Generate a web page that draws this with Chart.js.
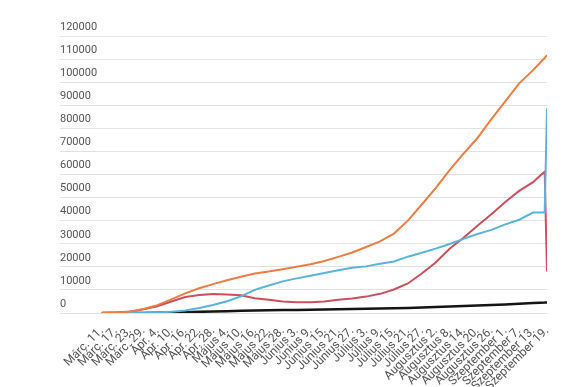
<!DOCTYPE html>
<html>
<head>
<meta charset="utf-8">
<script src="https://cdn.jsdelivr.net/npm/chart.js@4"></script>
<style>
  html, body { margin: 0; padding: 0; background: #fff; }
  #wrap { width: 575px; height: 387px; position: relative; }
</style>
</head>
<body>
<div id="wrap"><canvas id="chart"></canvas></div>
<script>
// days counted from Márc. 11.
var days = [0, 6, 12, 18, 24, 30, 36, 42, 48, 54, 60, 66, 72, 78, 84, 90, 96, 102, 108, 114,
    120, 126, 132, 138, 144, 150, 156, 162, 168, 174, 180, 186, 189, 191, 192];

var confirmed = [0, 180, 600, 1700, 3400, 5900, 8500, 10700, 12500, 14200, 15700, 17100, 18000, 19000, 20000, 21100, 22500, 24300, 26200, 28600,
    31000, 34400, 40000, 47000, 54100, 61900, 69000, 75800, 84000, 91700, 99500, 105200, 108400, 110500, 111700];
var active = [0, 170, 550, 1600, 2900, 5000, 6900, 7800, 8200, 8000, 7700, 6400, 5700, 5000, 4700, 4700, 5000, 5700, 6300, 7100,
    8300, 10200, 12800, 17100, 21900, 27800, 32600, 37800, 42800, 48100, 52900, 56700, 59500, 61200, 18000];
var recovered = [0, 10, 70, 150, 300, 500, 1100, 2150, 3500, 5100, 7200, 10000, 11900, 13700, 15000, 16100, 17300, 18500, 19600, 20200,
    21300, 22300, 24400, 26100, 27900, 29900, 32100, 34200, 36000, 38400, 40400, 43500, 43500, 43500, 88600];
var deaths = [0, 0, 10, 40, 100, 200, 350, 500, 650, 800, 950, 1100, 1200, 1300, 1350, 1400, 1500, 1600, 1700, 1800,
    1950, 2100, 2200, 2400, 2600, 2800, 3000, 3200, 3500, 3700, 4000, 4300, 4400, 4500, 4600];

var tickDays = [0, 6, 12, 18, 24, 30, 36, 42, 48, 54, 60, 66, 72, 78, 84, 90, 96, 102, 108, 114,
    120, 126, 132, 138, 144, 150, 156, 162, 168, 174, 180, 186, 192];
var tickLabels = ['Márc. 11.', 'Márc. 17.', 'Márc. 23.', 'Márc. 29.', 'Ápr. 4.', 'Ápr. 10.', 'Ápr. 16.', 'Ápr. 22.', 'Ápr. 28.',
    'Május 4.', 'Május 10.', 'Május 16.', 'Május 22.', 'Május 28.', 'Június 3.', 'Június 9.', 'Június 15.', 'Június 21.',
    'Június 27.', 'Július 3.', 'Július 9.', 'Július 15.', 'Július 21.', 'Július 27.', 'Augusztus 2.', 'Augusztus 8.',
    'Augusztus 14.', 'Augusztus 20.', 'Augusztus 26.', 'Szeptember 1.', 'Szeptember 7.', 'Szeptember 13.', 'Szeptember 19.'];

function series(values, color, width) {
    return {
        data: days.map(function (d, i) { return { x: d, y: values[i] }; }),
        borderColor: color,
        borderWidth: width,
        pointRadius: 0,
        fill: false,
        tension: 0
    };
}

new Chart(document.getElementById('chart'), {
    type: 'line',
    data: {
        datasets: [
            series(confirmed, '#ee7c45', 2),
            series(recovered, '#5ab3db', 2),
            series(active, '#c9505f', 2),
            series(deaths, '#141414', 2.5)
        ]
    },
    options: {
        responsive: true,
        maintainAspectRatio: false,
        animation: false,
        devicePixelRatio: 1,
        layout: { padding: { left: 60, right: 28, top: 36, bottom: 0 } },
        plugins: { legend: { display: false }, tooltip: { enabled: false } },
        scales: {
            x: {
                type: 'linear',
                min: -18,
                max: 192,
                afterBuildTicks: function (scale) {
                    scale.ticks = tickDays.map(function (d) { return { value: d }; });
                },
                afterFit: function (scale) {
                    scale.height = 74;
                },
                grid: { display: false },
                border: { display: false },
                ticks: {
                    autoSkip: false,
                    minRotation: 45,
                    maxRotation: 45,
                    padding: 3,
                    color: '#555',
                    font: { family: 'Roboto', size: 12 },
                    callback: function (value, index) { return tickLabels[index]; }
                }
            },
            y: {
                min: 0,
                max: 120000,
                grid: { color: '#e2e2e2', drawTicks: false },
                border: { display: false },
                ticks: {
                    stepSize: 10000,
                    mirror: true,
                    padding: 0,
                    labelOffset: -9,
                    color: '#555',
                    font: { family: 'Roboto', size: 11 },
                    callback: function (v) { return String(v); }
                }
            }
        }
    }
});
</script>
</body>
</html>
